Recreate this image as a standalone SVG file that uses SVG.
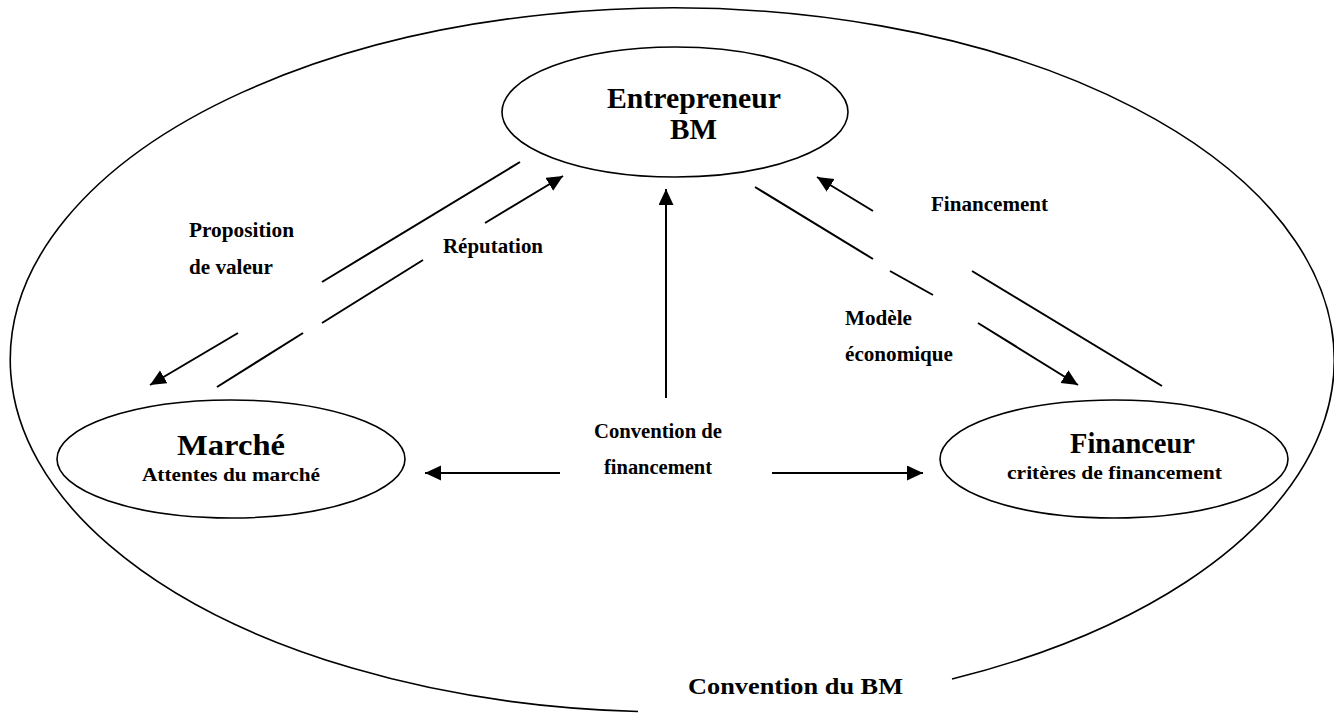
<svg xmlns="http://www.w3.org/2000/svg" width="1334" height="715" viewBox="0 0 1334 715">
<style>
.sh{fill:none;stroke:#000;stroke-width:1.6}
.ln{fill:none;stroke:#000;stroke-width:2}
text{font-family:"Liberation Serif","Times New Roman",serif;font-weight:bold;fill:#000}
.big{font-size:29px}
.sub{font-size:19px}
.lab{font-size:20px}
</style>
<defs>
<marker id="ah" markerUnits="userSpaceOnUse" markerWidth="18" markerHeight="16" refX="16" refY="7.5" orient="auto">
<path d="M0,0 L16,7.5 L0,15 z" fill="#000"/>
</marker>
</defs>
<rect width="1334" height="715" fill="#fff"/>
<g id="convention-bm">
<path class="sh" d="M 952,679 A 662 352 0 1 0 638,711.5"/>
<text x="688" y="694" font-size="24" textLength="215" lengthAdjust="spacingAndGlyphs">Convention du BM</text>
</g>
<g id="entrepreneur">
<ellipse class="sh" cx="675" cy="112" rx="173" ry="65"/>
<text class="big" x="607" y="108" textLength="174" lengthAdjust="spacingAndGlyphs">Entrepreneur</text>
<text class="big" x="670" y="139" textLength="47" lengthAdjust="spacingAndGlyphs">BM</text>
</g>
<g id="marche">
<ellipse class="sh" cx="231" cy="459" rx="174" ry="59"/>
<text class="big" x="177" y="455" textLength="108" lengthAdjust="spacingAndGlyphs">Marché</text>
<text class="sub" x="142" y="481" textLength="178" lengthAdjust="spacingAndGlyphs">Attentes du marché</text>
</g>
<g id="financeur">
<ellipse class="sh" cx="1114" cy="459" rx="174" ry="59"/>
<text class="big" x="1070" y="453" textLength="125" lengthAdjust="spacingAndGlyphs">Financeur</text>
<text class="sub" x="1007" y="479" textLength="215" lengthAdjust="spacingAndGlyphs">critères de  financement</text>
</g>
<g id="connectors">
<line class="ln" x1="520" y1="162" x2="322" y2="282"/>
<line class="ln" x1="238" y1="333" x2="150" y2="385" marker-end="url(#ah)"/>
<line class="ln" x1="217" y1="387" x2="303" y2="333"/>
<line class="ln" x1="322" y1="323" x2="423" y2="260"/>
<line class="ln" x1="485" y1="223" x2="563" y2="176" marker-end="url(#ah)"/>
<line class="ln" x1="755" y1="187" x2="873" y2="259"/>
<line class="ln" x1="890" y1="271" x2="933" y2="295"/>
<line class="ln" x1="978" y1="323" x2="1078" y2="385" marker-end="url(#ah)"/>
<line class="ln" x1="1162" y1="386" x2="972" y2="271"/>
<line class="ln" x1="873" y1="211" x2="817" y2="177" marker-end="url(#ah)"/>
<line class="ln" x1="666" y1="398" x2="666" y2="189" marker-end="url(#ah)"/>
<line class="ln" x1="560" y1="473" x2="425" y2="473" marker-end="url(#ah)"/>
<line class="ln" x1="772" y1="473" x2="923" y2="473" marker-end="url(#ah)"/>
</g>
<g id="labels">
<text class="lab" x="189" y="237" textLength="105" lengthAdjust="spacingAndGlyphs">Proposition</text>
<text class="lab" x="189" y="274" textLength="84" lengthAdjust="spacingAndGlyphs">de valeur</text>
<text class="lab" x="443" y="253" textLength="100" lengthAdjust="spacingAndGlyphs">Réputation</text>
<text class="lab" x="931" y="211" textLength="117" lengthAdjust="spacingAndGlyphs">Financement</text>
<text class="lab" x="845" y="325" textLength="67" lengthAdjust="spacingAndGlyphs">Modèle</text>
<text class="lab" x="845" y="361" textLength="108" lengthAdjust="spacingAndGlyphs">économique</text>
<text class="lab" x="594" y="438" textLength="128" lengthAdjust="spacingAndGlyphs">Convention de</text>
<text class="lab" x="604" y="474" textLength="108" lengthAdjust="spacingAndGlyphs">financement</text>
</g>
</svg>
